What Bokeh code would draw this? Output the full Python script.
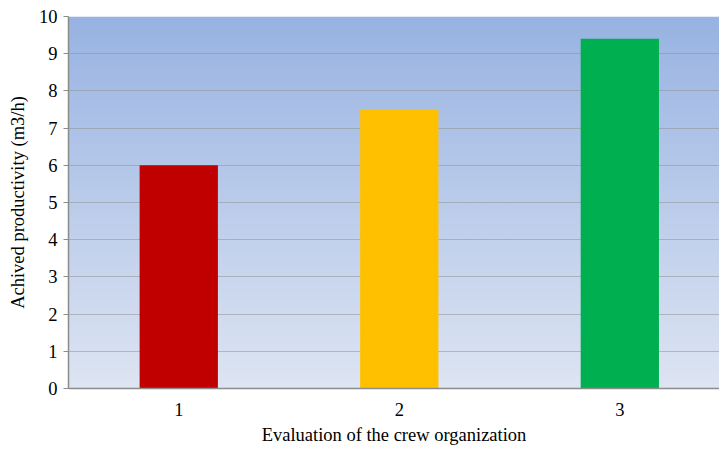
import numpy as np
from bokeh.plotting import figure
from bokeh.models import FixedTicker, Range1d
from bokeh.embed import file_html
from bokeh.resources import INLINE

# Achieved productivity per crew-organization evaluation score
categories = [1, 2, 3]
productivity = [6.0, 7.5, 9.4]
bar_colors = ["#C00000", "#FFC000", "#00B050"]
y_ticks = [0, 1, 2, 3, 4, 5, 6, 7, 8, 9, 10]

FONT = "Liberation Serif"

p = figure(width=719, height=450, output_backend="svg", toolbar_location=None,
           x_range=Range1d(0.5, 3.452), y_range=Range1d(0, 10),
           min_border_left=68, min_border_right=0, min_border_top=16,
           min_border_bottom=62)
p.outline_line_color = None
p.background_fill_color = None

# vertical blue gradient behind the plot
n = 256
t = np.linspace(0.0, 1.0, n)  # 0 bottom -> 1 top
bottom = np.array([0xDE, 0xE5, 0xF3])
top = np.array([0x98, 0xB3, 0xE2])
cols = (bottom[None, :] * (1 - t[:, None]) + top[None, :] * t[:, None]).astype(np.uint32)
img = np.empty((n, 2), dtype=np.uint32)
rgba = (255 << 24) | (cols[:, 2] << 16) | (cols[:, 1] << 8) | cols[:, 0]
img[:, 0] = rgba
img[:, 1] = rgba
p.image_rgba(image=[img], x=0.5, y=0, dw=3.0, dh=10, level="image")

p.vbar(x=categories, top=productivity, width=0.355, color=bar_colors, line_color=None)

# grid
p.xgrid.grid_line_color = None
p.ygrid.grid_line_color = "#8C8C8C"
p.ygrid.grid_line_dash = "1 1"
p.ygrid.grid_line_width = 1
p.ygrid.ticker = FixedTicker(ticks=y_ticks)

# axes
p.yaxis.ticker = FixedTicker(ticks=y_ticks)
p.xaxis.ticker = FixedTicker(ticks=categories)
for ax in (p.xaxis[0], p.yaxis[0]):
    ax.axis_line_color = "#8C8C8C"
    ax.axis_line_width = 1.5
    ax.major_label_text_font = FONT
    ax.major_label_text_font_size = "18.5px"
    ax.major_label_text_color = "#000000"
    ax.axis_label_text_font = FONT
    ax.axis_label_text_font_size = "18.5px"
    ax.axis_label_text_font_style = "normal"
    ax.axis_label_text_color = "#000000"
    ax.minor_tick_line_color = None

p.yaxis.major_tick_line_color = "#8C8C8C"
p.yaxis.major_tick_in = 0
p.yaxis.major_tick_out = 5
p.yaxis.major_label_standoff = 6
p.xaxis.major_tick_line_color = None
p.xaxis.major_tick_out = 0
p.xaxis.major_tick_in = 0
p.xaxis.major_label_standoff = 14

p.yaxis.axis_label = "Achived productivity (m3/h)"
p.xaxis.axis_label = "Evaluation of the crew organization"
p.yaxis.axis_label_standoff = 8
p.xaxis.axis_label_standoff = 6

open("out.html", "w").write(file_html(p, INLINE))
